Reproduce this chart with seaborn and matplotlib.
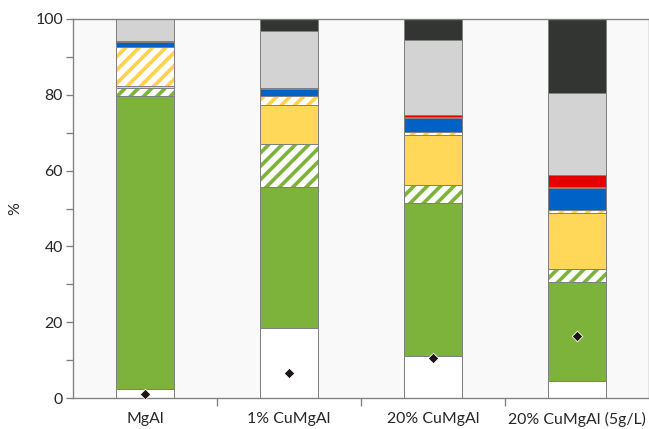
import numpy as np
import matplotlib
matplotlib.use("Agg")
import matplotlib.pyplot as plt
import seaborn as sns

catalysts = ["MgAl", "1% CuMgAl", "20% CuMgAl", "20% CuMgAl (5g/L)"]

# Product distribution (%) for each catalyst, listed from the bottom of the bar upward
residual = [2.3, 18.6, 11.2, 4.6]
green_solid = [77.5, 37.2, 40.3, 25.9]
green_striped = [1.9, 11.1, 4.7, 3.5]
yellow_solid = [0.5, 10.3, 13.1, 14.7]
yellow_striped = [10.5, 2.6, 1.0, 0.9]
blue_solid = [1.1, 1.8, 3.6, 5.9]
blue_striped = [0.3, 0.3, 0.2, 0.3]
red_solid = [0.0, 0.0, 0.6, 3.1]
gray_solid = [5.9, 14.9, 19.8, 21.5]
dark_solid = [0.0, 3.2, 5.5, 19.6]

# Point values shown as diamonds
diamond_values = [1.0, 6.7, 10.6, 16.4]

GREEN = "#7db33b"
YELLOW = "#ffd85a"
BLUE = "#0062c6"
RED = "#e50000"
GRAY = "#d3d3d3"
DARK = "#323532"
EDGE = "#808080"

# (values, face colour, stripe colour or None)
layers = [
    (residual, "#ffffff", None),
    (green_solid, GREEN, None),
    (green_striped, "#ffffff", GREEN),
    (yellow_solid, YELLOW, None),
    (yellow_striped, "#ffffff", "#ffd24a"),
    (blue_solid, BLUE, None),
    (blue_striped, "#ffffff", BLUE),
    (red_solid, RED, None),
    (gray_solid, GRAY, None),
    (dark_solid, DARK, None),
]

sns.set_style("ticks")
plt.rcParams["font.family"] = ["Lato", "DejaVu Sans"]
plt.rcParams["hatch.linewidth"] = 2.2

DPI = 120
fig = plt.figure(figsize=(649 / DPI, 429 / DPI), dpi=DPI)
ax = fig.add_axes([73 / 649, 31 / 429, 576 / 649, 379 / 429])
ax.set_facecolor("#f9f9f9")

tops = np.cumsum([np.asarray(v, dtype=float) for v, _, _ in layers], axis=0)

# Stacked bars: draw cumulative heights from the top layer down
for (vals, face, stripe), top in reversed(list(zip(layers, tops))):
    sns.barplot(x=catalysts, y=top, color=face, saturation=1, width=0.4,
                errorbar=None, edgecolor=stripe if stripe else face,
                linewidth=0, hatch="///" if stripe else None, ax=ax)
    sns.barplot(x=catalysts, y=top, color=EDGE, fill=False, width=0.4,
                errorbar=None, linewidth=0.6, ax=ax)

sns.stripplot(x=catalysts, y=diamond_values, jitter=False, marker="D",
              color="#1e1414", size=4.5, edgecolor="white", linewidth=0.5,
              zorder=5, ax=ax)

ax.set_xlim(-0.5, len(catalysts) - 0.5)
ax.set_ylim(0, 100)
ax.set_yticks(range(0, 101, 20))
ax.set_yticks(range(0, 101, 10), minor=True)
ax.set_xticks(np.arange(0.5, len(catalysts) - 1, 1), minor=True)

ax.tick_params(axis="x", which="major", length=0, pad=8.5, labelsize=9.5,
               labelcolor="#262626")
ax.tick_params(axis="x", which="minor", length=5, width=0.8, color=EDGE,
               direction="out")
ax.tick_params(axis="y", which="both", length=4, width=0.8, color=EDGE,
               direction="out", labelsize=9.5, labelcolor="#262626", pad=2)

ax.set_ylabel("%", fontsize=9.5, color="#262626", labelpad=8)
ax.set_xlabel("")

for side in ["left", "bottom", "top", "right"]:
    ax.spines[side].set_color(EDGE)
    ax.spines[side].set_linewidth(0.8)

fig.savefig("out.png", dpi=DPI, facecolor="white")
